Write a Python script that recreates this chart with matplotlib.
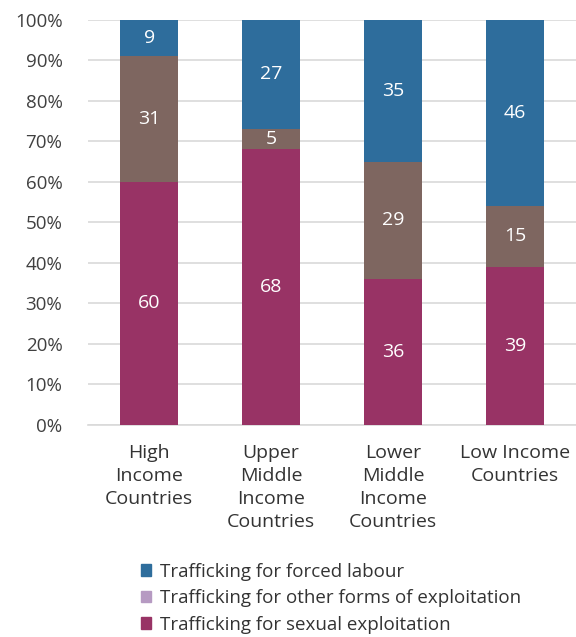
import numpy as np
import matplotlib.pyplot as plt
from matplotlib.patches import Patch

categories = ["High\nIncome\nCountries", "Upper\nMiddle\nIncome\nCountries",
              "Lower\nMiddle\nIncome\nCountries", "Low Income\nCountries"]
sexual = [60, 68, 36, 39]
other = [31, 5, 29, 15]
forced = [9, 27, 35, 46]

c_forced = '#2E6D9C'
c_other = '#7E6660'
c_other_leg = '#B69AC2'
c_sexual = '#983365'

plt.rcParams['font.family'] = ['Open Sans', 'DejaVu Sans']

fig = plt.figure(figsize=(5.76, 6.37), dpi=100)
ax = fig.add_axes([0.153, 0.333, 0.847, 0.636])

x = np.arange(len(categories))
w = 0.48
sexual = np.array(sexual)
other = np.array(other)
forced = np.array(forced)

b1 = ax.bar(x, sexual, w, color=c_sexual, zorder=3)
b2 = ax.bar(x, other, w, bottom=sexual, color=c_other, zorder=3)
b3 = ax.bar(x, forced, w, bottom=sexual + other, color=c_forced, zorder=3)

# value labels in the middle of each segment
for vals, bots in [(sexual, np.zeros(4)), (other, sexual), (forced, sexual + other)]:
    for i, v in enumerate(vals):
        ax.text(x[i], bots[i] + v / 2, str(v), ha='center', va='center',
                color='white', fontsize=14, zorder=4)

ax.set_xlim(-0.5, 3.5)
ax.set_ylim(0, 100)
ax.set_yticks(range(0, 101, 10))
ax.set_yticklabels([f"{t}%" for t in range(0, 101, 10)])
ax.yaxis.grid(True, color='#D9D9D9', linewidth=1.2, zorder=0)
ax.set_xticks(x)
ax.set_xticklabels(categories, fontsize=14, color='#333333', linespacing=1.36)
ax.tick_params(axis='y', length=0, labelsize=13.5, labelcolor='#404040', pad=18.5)
ax.tick_params(axis='x', length=0, pad=14)
for s in ['top', 'right', 'left']:
    ax.spines[s].set_visible(False)
ax.spines['bottom'].set_color('#D9D9D9')
ax.spines['bottom'].set_linewidth(1.2)

handles = [Patch(color=c_forced, label='Trafficking for forced labour'),
           Patch(color=c_other_leg, label='Trafficking for other forms of exploitation'),
           Patch(color=c_sexual, label='Trafficking for sexual exploitation')]
fig.legend(handles=handles, loc='center left', bbox_to_anchor=(0.244, 0.061),
           frameon=False, fontsize=13.5, handlelength=0.55, handleheight=0.55,
           handletextpad=0.5, labelspacing=0.45, labelcolor='#333333',
           borderpad=0, borderaxespad=0)

fig.savefig('out.png', dpi=100)
